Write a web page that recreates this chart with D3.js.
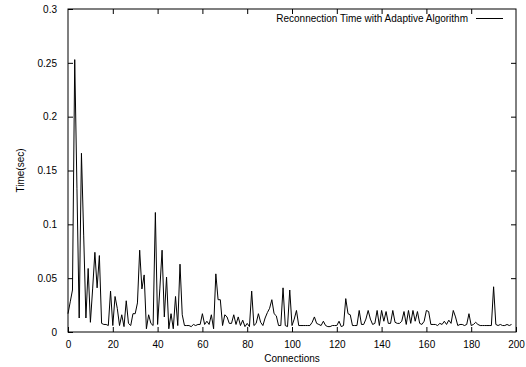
<!DOCTYPE html>
<html>
<head>
<meta charset="utf-8">
<script src="https://cdn.jsdelivr.net/npm/d3@7"></script>
<style>
  body { margin: 0; background: #fff; }
  text { font-family: "Liberation Sans", Arial, sans-serif; font-size: 10px; fill: #000; }
</style>
</head>
<body>
<div id="chart"></div>
<script>
// Reconnection time per connection
const seriesName = "Reconnection Time with Adaptive Algorithm";
const reconnectTime = [
  0.017, 0.028, 0.039, 0.253, 0.133, 0.013, 0.166, 0.090, 0.013, 0.059,
  0.009, 0.040, 0.074, 0.041, 0.071, 0.008, 0.007, 0.007, 0.006, 0.038,
  0.006, 0.033, 0.022, 0.006, 0.016, 0.005, 0.029, 0.008, 0.006, 0.017,
  0.017, 0.027, 0.076, 0.040, 0.053, 0.003, 0.016, 0.008, 0.006, 0.111,
  0.007, 0.040, 0.076, 0.014, 0.051, 0.003, 0.017, 0.003, 0.033, 0.006,
  0.063, 0.016, 0.006, 0.006, 0.006, 0.005, 0.007, 0.006, 0.007, 0.007,
  0.017, 0.007, 0.010, 0.007, 0.016, 0.003, 0.054, 0.030, 0.030, 0.006,
  0.016, 0.014, 0.008, 0.008, 0.016, 0.007, 0.014, 0.006, 0.011, 0.005,
  0.008, 0.005, 0.038, 0.006, 0.008, 0.017, 0.009, 0.006, 0.013, 0.018,
  0.022, 0.030, 0.017, 0.015, 0.006, 0.006, 0.041, 0.006, 0.005, 0.039,
  0.006, 0.012, 0.020, 0.006, 0.006, 0.006, 0.006, 0.006, 0.006, 0.009,
  0.014, 0.008, 0.007, 0.006, 0.010, 0.006, 0.005, 0.005, 0.006, 0.006,
  0.006, 0.010, 0.005, 0.006, 0.031, 0.017, 0.016, 0.006, 0.006, 0.006,
  0.020, 0.007, 0.007, 0.012, 0.020, 0.012, 0.007, 0.008, 0.020, 0.006,
  0.020, 0.010, 0.019, 0.008, 0.008, 0.020, 0.009, 0.008, 0.008, 0.010,
  0.019, 0.007, 0.020, 0.008, 0.020, 0.010, 0.019, 0.008, 0.007, 0.010,
  0.020, 0.019, 0.007, 0.007, 0.007, 0.006, 0.008, 0.007, 0.010, 0.007,
  0.011, 0.008, 0.020, 0.014, 0.006, 0.007, 0.007, 0.006, 0.007, 0.017,
  0.006, 0.007, 0.009, 0.007, 0.006, 0.006, 0.006, 0.006, 0.006, 0.006,
  0.042, 0.007, 0.006, 0.007, 0.006, 0.006, 0.007, 0.006, 0.007
];
const xTicks = [0, 20, 40, 60, 80, 100, 120, 140, 160, 180, 200];
const yTicks = [0, 0.05, 0.1, 0.15, 0.2, 0.25, 0.3];

const width = 526, height = 367;
const margin = {left: 68, right: 10, top: 9, bottom: 35};

const svg = d3.select("#chart").append("svg")
    .attr("width", width)
    .attr("height", height);

const x = d3.scaleLinear().domain([0, 200]).range([margin.left, width - margin.right]);
const y = d3.scaleLinear().domain([0, 0.3]).range([height - margin.bottom, margin.top]);

const tickLen = 5;

// inward ticks on all four sides, gnuplot style
svg.append("g")
    .attr("transform", `translate(0,${y(0)})`)
    .call(d3.axisBottom(x).tickValues(xTicks).tickSizeInner(-tickLen).tickSizeOuter(0).tickPadding(9).tickFormat(d3.format("d")))
    .call(g => g.select(".domain").remove());
svg.append("g")
    .attr("transform", `translate(0,${y(0.3)})`)
    .call(d3.axisTop(x).tickValues(xTicks.slice(1, -1)).tickSizeInner(-tickLen).tickSizeOuter(0).tickFormat(""))
    .call(g => g.select(".domain").remove());
svg.append("g")
    .attr("transform", `translate(${x(0)},0)`)
    .call(d3.axisLeft(y).tickValues(yTicks).tickSizeInner(-tickLen).tickSizeOuter(0).tickPadding(11).tickFormat(d => d === 0 ? "0" : String(+d.toFixed(2))))
    .call(g => g.select(".domain").remove());
svg.append("g")
    .attr("transform", `translate(${x(200)},0)`)
    .call(d3.axisRight(y).tickValues(yTicks.slice(1, -1)).tickSizeInner(-tickLen).tickSizeOuter(0).tickFormat(""))
    .call(g => g.select(".domain").remove());

svg.selectAll(".tick line").attr("stroke", "#000");
svg.selectAll(".tick text")
    .style("font-family", "'Liberation Sans', Arial, sans-serif")
    .style("font-size", "10px");

// frame
svg.append("rect")
    .attr("x", x(0)).attr("y", y(0.3))
    .attr("width", x(200) - x(0)).attr("height", y(0) - y(0.3))
    .attr("fill", "none").attr("stroke", "#000").attr("stroke-width", 1);

// data line
const line = d3.line()
    .x((d, i) => x(i))
    .y(d => y(d));

svg.append("path")
    .datum(reconnectTime)
    .attr("d", line)
    .attr("fill", "none")
    .attr("stroke", "#000")
    .attr("stroke-width", 1);

// legend
svg.append("text")
    .attr("x", 468).attr("y", 22)
    .attr("text-anchor", "end")
    .text(seriesName);
svg.append("line")
    .attr("x1", 476).attr("x2", 503)
    .attr("y1", 18.5).attr("y2", 18.5)
    .attr("stroke", "#000").attr("stroke-width", 1);

// axis titles
svg.append("text")
    .attr("x", (x(0) + x(200)) / 2).attr("y", 362)
    .attr("text-anchor", "middle")
    .text("Connections");
svg.append("text")
    .attr("transform", `translate(24,${(y(0) + y(0.3)) / 2}) rotate(-90)`)
    .attr("text-anchor", "middle")
    .text("Time(sec)");
</script>
</body>
</html>
